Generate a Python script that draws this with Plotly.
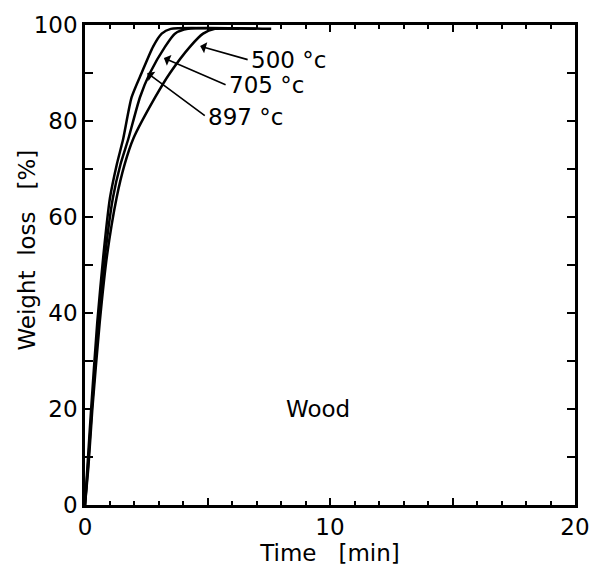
import plotly.graph_objects as go

# Weight loss of wood vs. time at three temperatures
t_897 = [0, 0.1, 0.25, 0.5, 0.75, 1.02, 1.3, 1.56, 1.9, 2.31, 2.78, 3.13, 3.5, 6.3]
w_897 = [0, 8, 20, 38, 52, 64, 71, 76.3, 84.9, 90, 95.5, 98.2, 99.2, 99.2]

t_705 = [0, 0.12, 0.28, 0.55, 0.82, 1.14, 1.45, 1.77, 2.24, 2.65, 3.27, 3.67, 4.2, 7.0]
w_705 = [0, 8, 20, 38, 52, 64, 71, 76.3, 84.9, 90, 95.5, 98.2, 99.2, 99.2]

t_500 = [0, 0.14, 0.3, 0.6, 0.9, 1.29, 1.62, 1.97, 2.86, 3.47, 4.29, 4.82, 5.3, 7.6]
w_500 = [0, 8, 20, 38, 52, 64, 71, 76.3, 84.9, 90, 95.5, 98.2, 99.2, 99.2]

series = [("500 °c", t_500, w_500), ("705 °c", t_705, w_705), ("897 °c", t_897, w_897)]

# Label text position and arrow tip (data units)
label_pos = {"500 °c": (6.7, 92.7), "705 °c": (5.8, 87.4), "897 °c": (4.95, 80.9)}
arrow_tip = {"500 °c": (4.7, 95.6), "705 °c": (3.22, 93.1), "897 °c": (2.54, 90.0)}

FONT = "DejaVu Sans"
FS = 23

fig = go.Figure()
for name, t, w in series:
    fig.add_trace(go.Scatter(x=t, y=w, mode="lines", name=name,
                             line=dict(color="black", width=2.5, shape="spline", smoothing=0.6),
                             showlegend=False))

annotations = []
for name, _, _ in series:
    lx, ly = label_pos[name]
    tx, ty = arrow_tip[name]
    annotations.append(dict(x=tx, y=ty, ax=lx, ay=ly, xref="x", yref="y",
                            axref="x", ayref="y", text="", showarrow=True,
                            arrowhead=1, arrowsize=1.2, arrowwidth=1.6, arrowcolor="black"))
    annotations.append(dict(x=lx, y=ly, xref="x", yref="y", text=name, showarrow=False,
                            xanchor="left", yanchor="middle", xshift=0,
                            font=dict(family=FONT, size=FS, color="black")))

annotations.append(dict(x=9.5, y=20, xref="x", yref="y", text="Wood", showarrow=False,
                        font=dict(family=FONT, size=FS, color="black")))

# Y-axis title placed as a rotated annotation, close to the tick labels
annotations.append(dict(x=0, y=53, xref="paper", yref="y", xshift=-58,
                        text="Weight  loss   [%]", textangle=-90, showarrow=False,
                        xanchor="center", yanchor="middle",
                        font=dict(family=FONT, size=FS, color="black")))

fig.update_layout(
    width=602, height=572,
    margin=dict(l=85, r=27, t=18, b=67),
    paper_bgcolor="white", plot_bgcolor="white",
    font=dict(family=FONT, size=FS, color="black"),
    annotations=annotations,
)

fig.update_xaxes(
    range=[0, 20], showgrid=False, zeroline=False,
    showline=True, linecolor="black", linewidth=2.5, mirror="ticks",
    ticks="inside", ticklen=7, tickwidth=1.5, tickcolor="black",
    tickvals=[0, 5, 10, 15, 20], ticktext=["0", "", "10", "", "20"],
    minor=dict(dtick=1, ticks="inside", ticklen=4, tickwidth=1.5, tickcolor="black"),
    title=dict(text="Time   [min]", standoff=0, font=dict(size=FS)),
)
fig.update_yaxes(
    range=[0, 100], showgrid=False, zeroline=False,
    showline=True, linecolor="black", linewidth=2.5, mirror="ticks",
    ticks="inside", ticklen=8, tickwidth=1.5, tickcolor="black",
    tickvals=list(range(0, 101, 10)),
    ticktext=[str(v) if v % 20 == 0 else "" for v in range(0, 101, 10)],
)

fig.write_html("out.html")
